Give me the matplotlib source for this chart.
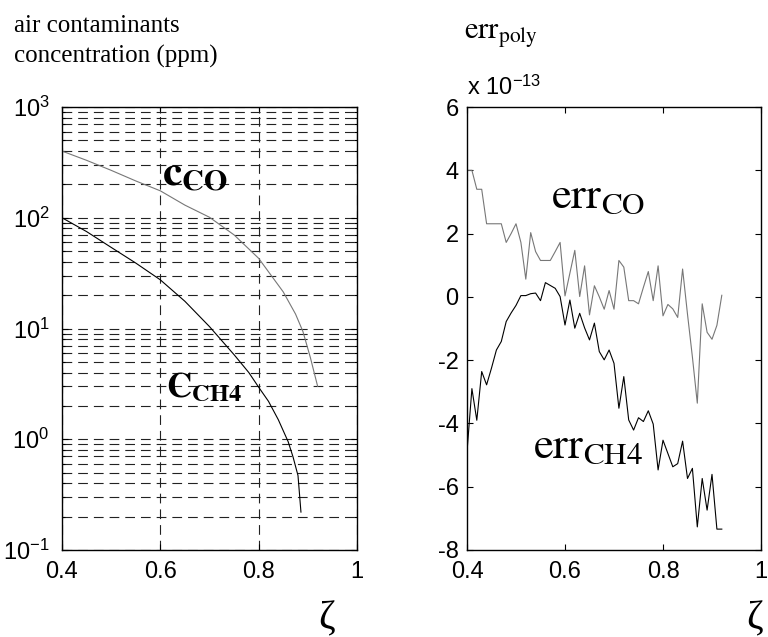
import numpy as np
import matplotlib
matplotlib.use('Agg')
import matplotlib.pyplot as plt
from matplotlib.ticker import FuncFormatter, LogLocator, NullFormatter

# left panel: concentrations (ppm) against zeta
zeta_co = [0.40, 0.45, 0.50, 0.55, 0.60, 0.65, 0.70, 0.75, 0.80, 0.85, 0.875, 0.89, 0.905, 0.92]
conc_co = [400, 330, 268, 215, 175, 130, 101, 70, 43, 21.4, 13.5, 9.4, 5.5, 3.0]
zeta_ch4 = [0.40, 0.45, 0.50, 0.55, 0.60, 0.65, 0.70, 0.75, 0.78, 0.80, 0.82, 0.84, 0.86, 0.87, 0.88, 0.886]
conc_ch4 = [100, 75, 54, 39, 27.5, 17.6, 10.4, 5.8, 4.0, 2.95, 2.2, 1.5, 0.95, 0.69, 0.47, 0.22]

# right panel: polynomial error, units of 1e-13
zeta_err = np.round(np.arange(0.40, 0.925, 0.01), 2)
err_co = [4.0, 4.0, 3.4, 3.4, 2.31, 2.31, 2.31, 2.31, 1.72, 2.0,
          2.31, 1.72, 0.56, 2.03, 1.43, 1.15, 1.15, 1.15, 1.43, 1.72,
          0.03, 0.75, 1.47, 0.01, 0.98, -0.57, 0.35, 0.0, -0.39, 0.2,
          -0.39, 1.15, 0.94, -0.12, -0.12, -0.22, 0.3, 0.8, -0.12, 0.98,
          -0.6, -0.24, -0.38, -0.65, 0.88, -0.55, -1.9, -3.36, -0.22, -1.12,
          -1.34, -0.9, 0.05]
err_ch4 = [-4.9, -2.9, -3.9, -2.36, -2.78, -2.25, -1.68, -1.41, -0.78, -0.51,
           -0.27, 0.04, 0.04, 0.1, 0.12, -0.12, 0.45, 0.36, 0.27, 0.01,
           -0.89, -0.1, -0.99, -0.52, -0.98, -1.36, -0.83, -1.73, -1.99, -1.68,
           -2.1, -3.52, -2.52, -3.89, -4.21, -3.82, -3.94, -3.6, -4.02, -5.47,
           -4.53, -4.95, -5.37, -5.27, -4.56, -5.74, -5.42, -7.27, -5.74, -6.74,
           -5.61, -7.34, -7.34]

xticks = [0.4, 0.6, 0.8, 1.0]
xticklabels = ['0.4', '0.6', '0.8', '1']
err_ticks = [-8, -6, -4, -2, 0, 2, 4, 6]

plt.rcParams['font.family'] = ['Liberation Sans', 'DejaVu Sans']
plt.rcParams['axes.unicode_minus'] = False
plt.rcParams['mathtext.fontset'] = 'stix'
plt.rcParams['lines.scale_dashes'] = False

W, H = 768, 637
fig = plt.figure(figsize=(W / 100, H / 100), dpi=100)


def pos(x, y):
    return x / W, 1 - y / H


def style_axes(ax, ypad):
    ax.tick_params(which='both', direction='in', top=True, right=True,
                   labelsize=17, width=0.8)
    ax.tick_params(which='major', length=4)
    ax.tick_params(which='minor', length=2.5)
    ax.tick_params(axis='x', pad=8)
    ax.tick_params(axis='y', pad=ypad)
    for s in ax.spines.values():
        s.set_linewidth(1.0)
    ax.set_xlim(0.4, 1.0)
    ax.set_xticks(xticks)
    ax.set_xticklabels(xticklabels)


grid_dash = (0, (7, 4.3))

ax1 = fig.add_axes([62 / W, 1 - 550 / H, 295 / W, 443 / H])
ax1.set_yscale('log')
ax1.set_ylim(0.1, 1000)
ax1.yaxis.set_major_locator(LogLocator(base=10, numticks=10))
ax1.yaxis.set_minor_locator(LogLocator(base=10, subs=np.arange(2, 10), numticks=20))
ax1.yaxis.set_minor_formatter(NullFormatter())
ax1.yaxis.set_major_formatter(
    FuncFormatter(lambda v, _: r'$\mathregular{10^{%d}}$' % int(round(np.log10(v)))))
ax1.grid(True, which='both', axis='y', color='#222222', lw=0.8, ls=grid_dash)
ax1.grid(True, which='major', axis='x', color='#222222', lw=0.8, ls=grid_dash)
ax1.plot(zeta_co, conc_co, color='#777777', lw=0.8)
ax1.plot(zeta_ch4, conc_ch4, color='black', lw=0.8)
style_axes(ax1, 9)

ax2 = fig.add_axes([467 / W, 1 - 550 / H, 294 / W, 443 / H])
ax2.set_ylim(-8, 6)
ax2.set_yticks(err_ticks)
ax2.plot(zeta_err, err_co, color='#777777', lw=0.8)
ax2.plot(zeta_err, err_ch4, color='black', lw=0.8)
style_axes(ax2, 6)

# labels and annotations
fig.text(*pos(14, 32), 'air contaminants', family='Liberation Serif', fontsize=18, va='baseline')
fig.text(*pos(14, 63), 'concentration (ppm)', family='Liberation Serif', fontsize=18, va='baseline')
fig.text(*pos(162, 185), r'$\mathbf{c}_{\mathbf{CO}}$', fontsize=31, va='baseline')
fig.text(*pos(166, 397), r'$\mathbf{C}_{\mathbf{CH4}}$', fontsize=25, va='baseline')
fig.text(*pos(464, 39), r'$\mathrm{err}_{\mathrm{poly}}$', fontsize=22, va='baseline')
fig.text(*pos(467, 95), r'x 10$^{\mathregular{-13}}$', fontsize=17, va='baseline')
fig.text(*pos(551, 208), r'$\mathrm{err}_{\mathrm{CO}}$', fontsize=32, va='baseline')
fig.text(*pos(533, 458), r'$\mathrm{err}_{\mathrm{CH4}}$', fontsize=32, va='baseline')
fig.text(*pos(318, 628), 'ζ', family='Liberation Serif', fontsize=29, va='baseline')
fig.text(*pos(746, 628), 'ζ', family='Liberation Serif', fontsize=29, va='baseline')

fig.savefig('out.png', dpi=100)
